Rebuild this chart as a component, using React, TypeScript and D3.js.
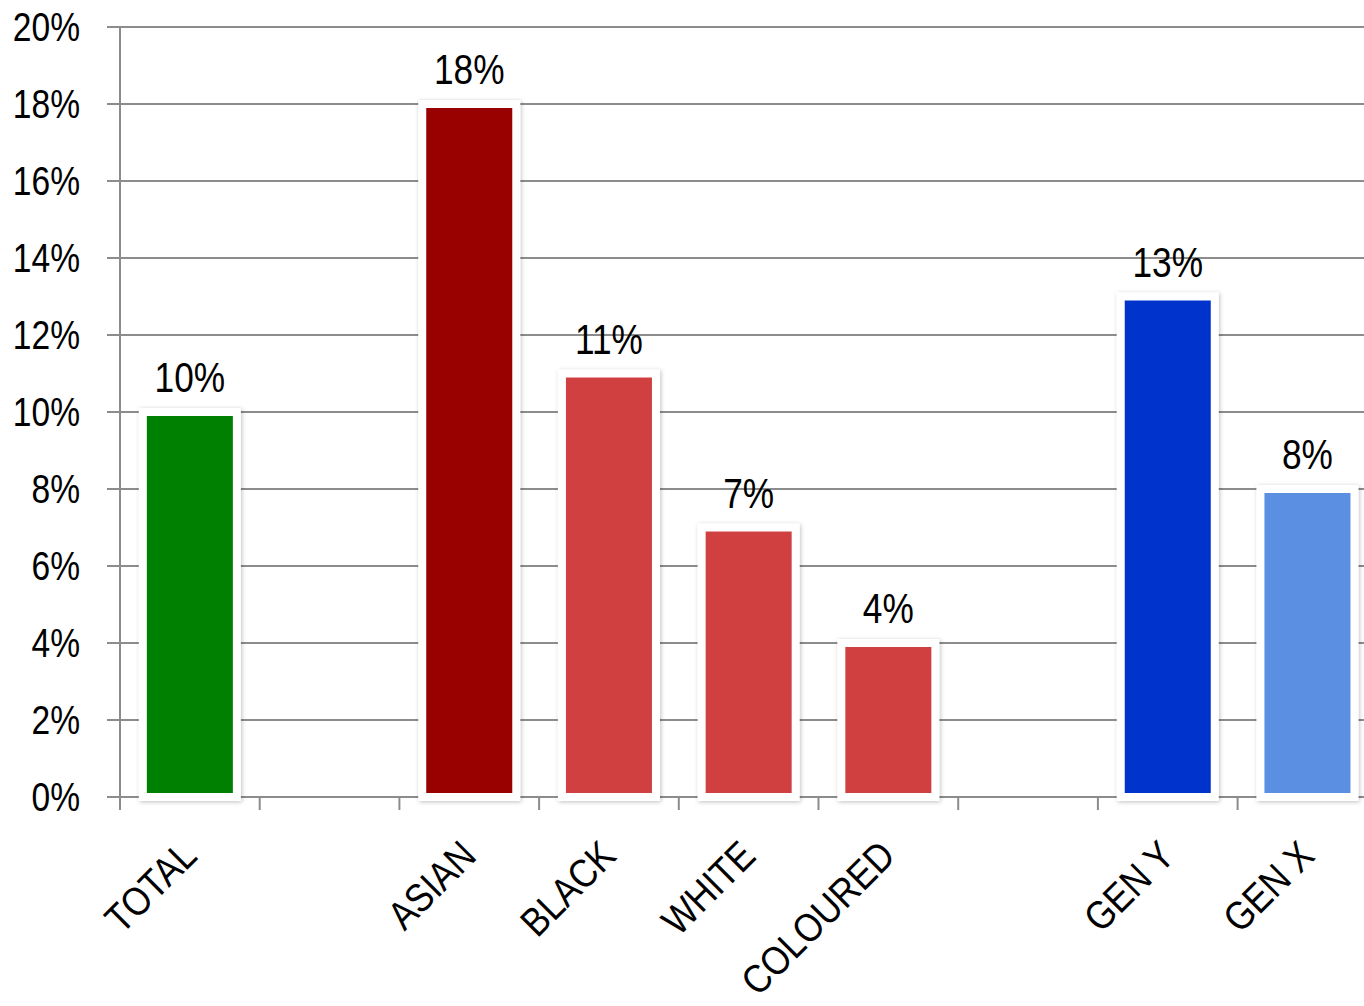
import * as d3 from 'd3';
import { useEffect, useRef } from 'react';

// empty strings are the gaps between the groups
const categories = ['TOTAL', '', 'ASIAN', 'BLACK', 'WHITE', 'COLOURED', '', 'GEN Y', 'GEN X'];
const values = [10, null, 18, 11, 7, 4, null, 13, 8];
const colors = ['#008000', null, '#990000', '#D14141', '#D14141', '#D14141', null, '#0033CC', '#5A8FE2'];
const yTicks = [0, 2, 4, 6, 8, 10, 12, 14, 16, 18, 20];

const W = 1364;
const H = 1006;
const FONT = '"Liberation Sans", Arial, sans-serif';
const SX = 0.84; // horizontal squeeze, the original face is narrower
const SX_CAT = 0.87;

const App = () => {
    const svgRef = useRef<SVGSVGElement>(null);

    useEffect(() => {
        const svg = d3.select(svgRef.current);
        const left = 120, top = 27, bottom = 797, slot = 139.7;

        const x = d3.scaleBand<number>()
            .domain(categories.map((_, i) => i))
            .range([left, left + slot * categories.length])
            .paddingInner(0.327)
            .paddingOuter(0.1635);
        const y = d3.scaleLinear().domain([0, 20]).range([bottom, top]);

        const defs = svg.append('defs');
        defs.append('filter')
            .attr('id', 'shadow')
            .attr('x', '-20%').attr('y', '-20%').attr('width', '140%').attr('height', '140%')
            .append('feDropShadow')
            .attr('dx', 1).attr('dy', 1)
            .attr('stdDeviation', 2)
            .attr('flood-color', '#000')
            .attr('flood-opacity', 0.25);

        // gridlines
        svg.append('g')
            .selectAll('line')
            .data(yTicks.slice(1))
            .enter()
            .append('line')
            .attr('x1', left - 13)
            .attr('x2', W)
            .attr('y1', d => y(d))
            .attr('y2', d => y(d))
            .attr('stroke', '#8c8c8c')
            .attr('stroke-width', 2);

        // axes
        svg.append('line')
            .attr('x1', left).attr('x2', left)
            .attr('y1', top).attr('y2', bottom)
            .attr('stroke', '#8c8c8c').attr('stroke-width', 2);
        svg.append('line')
            .attr('x1', left - 13).attr('x2', W)
            .attr('y1', bottom).attr('y2', bottom)
            .attr('stroke', '#8c8c8c').attr('stroke-width', 2);

        svg.append('g')
            .selectAll('line')
            .data(d3.range(categories.length + 1))
            .enter()
            .append('line')
            .attr('x1', i => left + i * slot)
            .attr('x2', i => left + i * slot)
            .attr('y1', bottom)
            .attr('y2', bottom + 13)
            .attr('stroke', '#8c8c8c')
            .attr('stroke-width', 2);

        // y labels
        svg.append('g')
            .selectAll('text')
            .data(yTicks)
            .enter()
            .append('text')
            .attr('transform', d => `translate(80,${y(d)}) scale(${SX},1)`)
            .attr('dy', '0.36em')
            .attr('text-anchor', 'end')
            .attr('font-family', FONT)
            .attr('font-size', 40)
            .attr('fill', '#000')
            .text(d => `${d}%`);

        const bars = categories
            .map((c, i) => ({ c, i, v: values[i], color: colors[i] }))
            .filter(d => d.v !== null);

        svg.append('g')
            .selectAll('rect')
            .data(bars)
            .enter()
            .append('rect')
            .attr('x', d => x(d.i)!)
            .attr('width', x.bandwidth())
            .attr('y', d => y(d.v!))
            .attr('height', d => bottom - y(d.v!))
            .attr('fill', d => d.color!)
            .attr('stroke', '#fff')
            .attr('stroke-width', 8)
            .attr('filter', 'url(#shadow)');

        svg.append('g')
            .selectAll('text')
            .data(bars)
            .enter()
            .append('text')
            .attr('transform', d => `translate(${x(d.i)! + x.bandwidth() / 2},${y(d.v!) - 20}) scale(${SX},1)`)
            .attr('text-anchor', 'middle')
            .attr('font-family', FONT)
            .attr('font-size', 42)
            .attr('fill', '#000')
            .text(d => `${d.v}%`);

        // rotated category labels
        svg.append('g')
            .selectAll('text')
            .data(bars)
            .enter()
            .append('text')
            .attr('transform', d => {
                const cx = x(d.i)! + x.bandwidth() / 2 + 9;
                return `translate(${cx},858) rotate(-45) scale(${SX_CAT},1)`;
            })
            .attr('text-anchor', 'end')
            .attr('font-family', FONT)
            .attr('font-size', 40)
            .attr('fill', '#000')
            .text(d => d.c);

        return () => {
            svg.selectAll('*').remove();
        };
    }, []);

    return (
        <svg
            ref={svgRef}
            width={W}
            height={H}
            style={{ position: 'absolute', left: 0, top: 0, background: '#fff', overflow: 'hidden' }}
        ></svg>
    );
};

export default App;
